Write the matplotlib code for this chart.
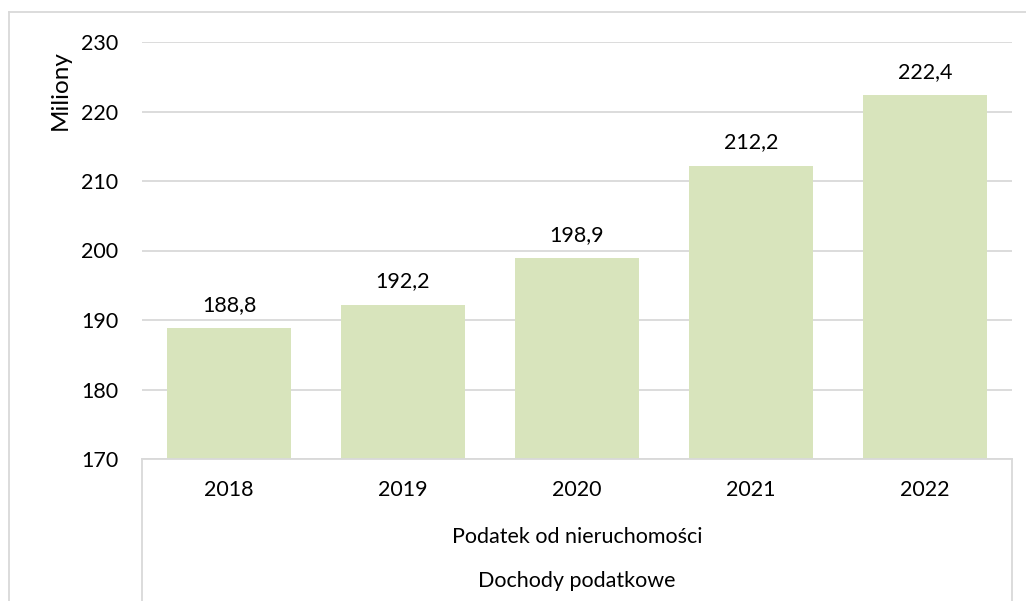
import matplotlib
matplotlib.use("Agg")
import matplotlib.pyplot as plt
from matplotlib.lines import Line2D

years = ["2018", "2019", "2020", "2021", "2022"]
values = [188.8, 192.2, 198.9, 212.2, 222.4]
level2_label = "Podatek od nieruchomości"
level3_label = "Dochody podatkowe"
y_label = "Miliony"

plt.rcParams["font.family"] = ["Lato", "DejaVu Sans"]

W, H = 1026, 601
FS = 15.5
fig = plt.figure(figsize=(W / 100, H / 100), dpi=100)


def fx(px):
    return px / W


def fy(py):
    return 1 - py / H


ax = fig.add_axes([fx(142), fy(459), fx(1012) - fx(142), fy(42) - fy(459)])
x = range(len(years))
ax.bar(x, values, width=0.713, color="#D8E4BC", zorder=2)
for xi, v in zip(x, values):
    ax.text(xi, v + 1.9, f"{v:.1f}".replace(".", ","), ha="center", va="bottom",
            fontsize=FS, color="#000000")

ax.set_xlim(-0.5, len(years) - 0.5)
ax.set_ylim(170, 230)
ax.set_yticks(range(170, 231, 10))
ax.tick_params(axis="y", length=0, pad=17, labelsize=FS)
ax.set_xticks([])
ax.yaxis.grid(True, color="#D9D9D9", linewidth=1.3, zorder=0)
for s in ax.spines.values():
    s.set_visible(False)

# axis title placed by hand, like the Excel original
fig.text(fx(60), fy(90), y_label, rotation=90, ha="center", va="center", fontsize=17.5)

# category axis box and labels
line_kw = dict(color="#D9D9D9", linewidth=1.3, transform=fig.transFigure)
fig.add_artist(Line2D([fx(142), fx(1012)], [fy(459), fy(459)], **line_kw))
fig.add_artist(Line2D([fx(142), fx(142)], [fy(459), fy(601)], **line_kw))
fig.add_artist(Line2D([fx(1012), fx(1012)], [fy(459), fy(601)], **line_kw))

for xi, yr in zip(x, years):
    xd = ax.transData.transform((xi, 0))[0] / W
    fig.text(xd, fy(490), yr, ha="center", va="center", fontsize=FS)
fig.text((fx(142) + fx(1012)) / 2, fy(537), level2_label, ha="center", va="center", fontsize=FS)
fig.text((fx(142) + fx(1012)) / 2, fy(581), level3_label, ha="center", va="center", fontsize=FS)

# outer chart frame
fig.add_artist(Line2D([fx(9), 1], [fy(12), fy(12)], **line_kw))
fig.add_artist(Line2D([fx(9), fx(9)], [fy(12), 0], **line_kw))

fig.savefig("out.png", dpi=100)
